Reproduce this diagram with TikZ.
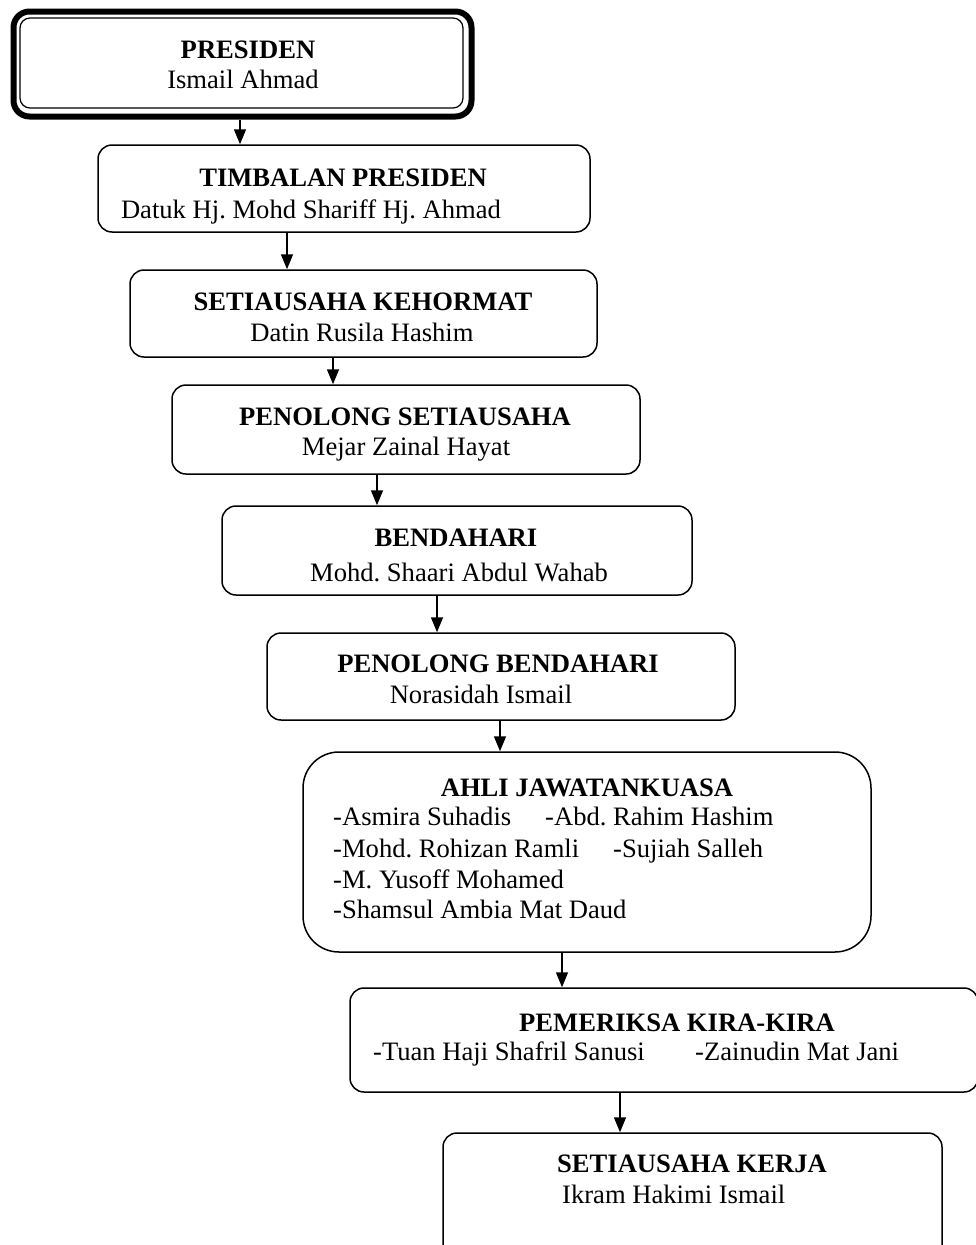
\documentclass[tikz,border=0pt]{standalone}
\usepackage{fontspec}
\setmainfont{Liberation Serif}
\usetikzlibrary{arrows.meta}
\frenchspacing
\begin{document}
\begin{tikzpicture}[x=1pt,y=-1pt,
  box/.style={draw,line width=1.5pt,rounded corners=14pt,inner sep=0pt},
  arr/.style={line width=1.5pt,-{Triangle[width=12pt,length=15pt]}},
  ttl/.style={anchor=base,font=\fontsize{26.6}{30}\selectfont\bfseries,inner sep=0pt},
  nm/.style={anchor=base,font=\fontsize{26.6}{30}\selectfont,inner sep=0pt},
  nml/.style={anchor=base west,font=\fontsize{26.6}{30}\selectfont,inner sep=0pt}]
\useasboundingbox (0,0) rectangle (975,1245);
% boxes
\draw[line width=6pt,rounded corners=16pt] (13.5,11.5) rectangle (471.5,116.5);
\node[draw,line width=1.2pt,rounded corners=10pt,minimum width=443pt,minimum height=90pt,inner sep=0pt] (b1) at (241.5,63) {};
\node[box,minimum width=492pt,minimum height=87pt] (b2) at (344,188.5) {};
\node[box,minimum width=467pt,minimum height=87pt] (b3) at (363.5,313.5) {};
\node[box,minimum width=468pt,minimum height=89pt] (b4) at (406,429.5) {};
\node[box,minimum width=470pt,minimum height=89pt] (b5) at (457,550.5) {};
\node[box,minimum width=468pt,minimum height=87pt] (b6) at (501,676.5) {};
\node[box,rounded corners=36pt,minimum width=568pt,minimum height=200pt] (b7) at (587,852) {};
\node[box,minimum width=628pt,minimum height=104pt] (b8) at (664,1040) {};
\node[box,minimum width=499pt,minimum height=130pt] (b9) at (692.5,1198) {};
% texts
\node[ttl] (t1) at (248,58) {PRESIDEN};
\node[nm] (n1) at (243,88) {Ismail Ahmad};
\node[ttl] (t2) at (343,186) {TIMBALAN PRESIDEN};
\node[nm] (n2) at (311,218) {Datuk Hj. Mohd Shariff Hj. Ahmad};
\node[ttl] (t3) at (363,310) {SETIAUSAHA KEHORMAT};
\node[nm] (n3) at (362,341) {Datin Rusila Hashim};
\node[ttl] (t4) at (405,425) {PENOLONG SETIAUSAHA};
\node[nm] (n4) at (406,455) {Mejar Zainal Hayat};
\node[ttl] (t5) at (456,546) {BENDAHARI};
\node[nm] (n5) at (459,581) {Mohd. Shaari Abdul Wahab};
\node[ttl] (t6) at (498,672) {PENOLONG BENDAHARI};
\node[nm] (n6) at (481,703) {Norasidah Ismail};
\node[ttl] (t7) at (587,796) {AHLI JAWATANKUASA};
\node[nml] (a1) at (333,825) {-Asmira Suhadis};
\node[nml] (a2) at (545,825) {-Abd. Rahim Hashim};
\node[nml] (a3) at (333,857) {-Mohd. Rohizan Ramli};
\node[nml] (a4) at (613,857) {-Sujiah Salleh};
\node[nml] (a5) at (333,888) {-M. Yusoff Mohamed};
\node[nml] (a6) at (333,918) {-Shamsul Ambia Mat Daud};
\node[ttl] (t8) at (677,1031) {PEMERIKSA KIRA-KIRA};
\node[nml] (p1) at (373,1060) {-Tuan Haji Shafril Sanusi};
\node[nml] (p2) at (695,1060) {-Zainudin Mat Jani};
\node[ttl] (t9) at (692,1172) {SETIAUSAHA KERJA};
\node[nml] (n9) at (562,1203) {Ikram Hakimi Ismail};
% arrows
\coordinate (s1) at (240,120);
\draw[arr] (s1) -- (b2.north -| s1);
\draw[arr] (b2.south -| 287,0) -- (b3.north -| 287,0);
\draw[arr] (b3.south -| 333,0) -- (b4.north -| 333,0);
\draw[arr] (b4.south -| 377,0) -- (b5.north -| 377,0);
\draw[arr] (b5.south -| 437,0) -- (b6.north -| 437,0);
\draw[arr] (b6.south -| 500,0) -- (b7.north -| 500,0);
\draw[arr] (b7.south -| 562,0) -- (b8.north -| 562,0);
\draw[arr] (b8.south -| 620,0) -- (b9.north -| 620,0);
\end{tikzpicture}
\end{document}
